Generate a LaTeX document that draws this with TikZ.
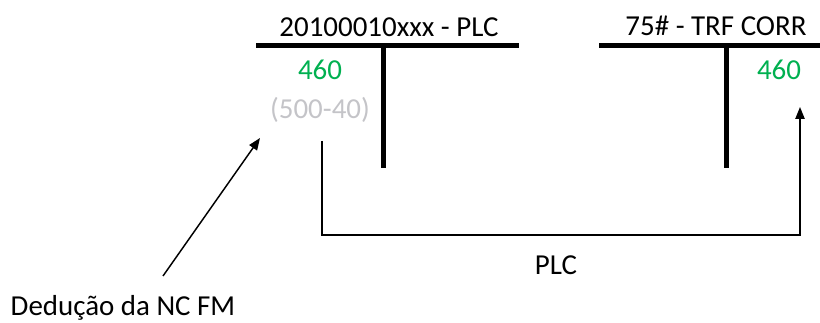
\documentclass[tikz,border=0pt]{standalone}
\usepackage{fontspec}
\setmainfont{Carlito}
\usetikzlibrary{arrows.meta}
\definecolor{valgreen}{RGB}{0,176,80}
\definecolor{valgray}{RGB}{196,196,200}

\begin{document}
\begin{tikzpicture}[x=0.75pt,y=0.75pt,yscale=-1,xscale=1,
  lbl/.style={anchor=base,inner sep=0.75pt,font=\fontsize{21.7}{26}\selectfont},
  tbar/.style={line width=3.75pt},
  thin/.style={line width=1.1pt},
  tip/.style={-{Triangle[length=9pt,width=7pt]}}]
\useasboundingbox (0,0) rectangle (820,323);

% T accounts
\draw [tbar] (256,46) -- (519,46) (383,46) -- (383,168) ;
\draw [tbar] (599,46) -- (820,46) (726,46) -- (726,168) ;

\node [lbl] (plcttl) at (389,37) {20100010xxx - PLC};
\node [lbl] (trfttl) at (716,36) {75\# - TRF CORR};
\node [lbl,text=valgreen] (plcval) at (320,80) {460};
\node [lbl,text=valgray] (plcded) at (320,119) {(500-40)};
\node [lbl,text=valgreen] (trfval) at (779,80) {460};
\node [lbl] (plclbl) at (556,275) {PLC};
\node [lbl] (dedlbl) at (123,316) {Dedução da NC FM};

\coordinate (plcsrc) at (322,141);
\coordinate (trftgt) at (800,107);
\coordinate (dedtgt) at (260,138);

\draw [thin,tip] (plcsrc) |- (800,235) -- (trftgt) ;
\draw [thin,tip] (163,276) -- (dedtgt) ;

\end{tikzpicture}
\end{document}
